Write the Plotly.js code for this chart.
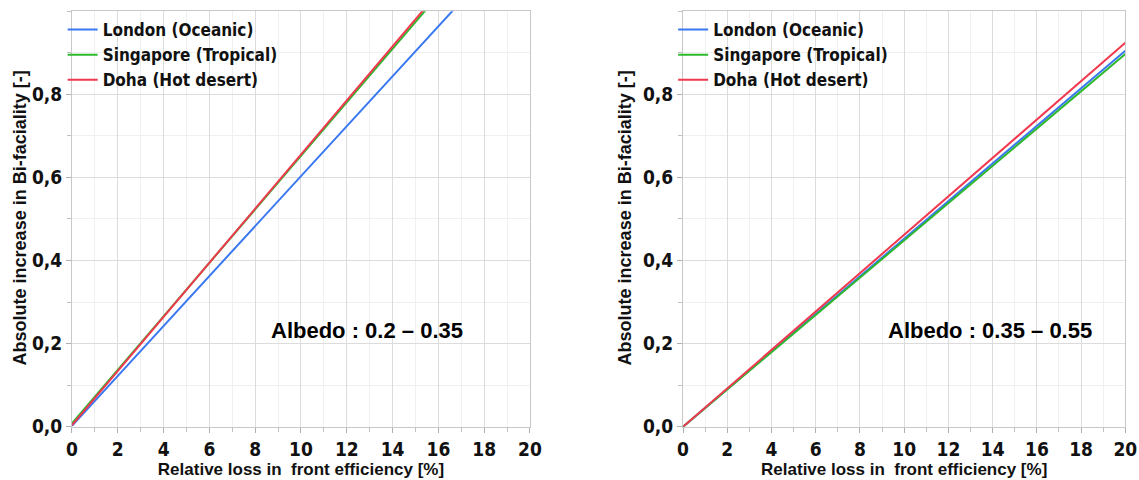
<!DOCTYPE html>
<html><head><meta charset="utf-8">
<script src="https://cdn.plot.ly/plotly-3.0.1.min.js"></script>
<style>html,body{margin:0;padding:0;background:#fff}#c{width:1139px;height:480px}</style>
</head><body><div id="c"></div>
<script>
// Data
const xLoss = [0, 5, 10, 15, 20];
// Left panel: Albedo 0.2 – 0.35
const londonA = [0.002, 0.303, 0.603, 0.904, 1.204];
const singaporeA = [0.008, 0.330, 0.652, 0.974, 1.296];
const dohaA = [0.004, 0.330, 0.655, 0.981, 1.306];
// Right panel: Albedo 0.35 – 0.55
const londonB = [0, 0.226, 0.453, 0.679, 0.905];
const singaporeB = [0, 0.224, 0.449, 0.673, 0.897];
const dohaB = [0, 0.231, 0.462, 0.693, 0.924];
const seriesNames = ['London (Oceanic)', 'Singapore (Tropical)', 'Doha (Hot desert)'];
const panelLabels = ['Albedo : 0.2 – 0.35', 'Albedo : 0.35 – 0.55'];
const xTicks = [0, 2, 4, 6, 8, 10, 12, 14, 16, 18, 20];
const yTicks = [0, 0.2, 0.4, 0.6, 0.8];

const colors = ['#3a78f2', '#2eb82e', '#f0384e'];
const NARROW = '"DejaVu Sans Condensed", "Liberation Sans Narrow", "Liberation Sans", Arial, sans-serif';
const SANS = '"Liberation Sans", Arial, sans-serif';

function mk(y, i, xa, ya, leg) {
  return {x: xLoss, y: y, type: 'scatter', mode: 'lines', name: seriesNames[i],
    line: {color: colors[i], width: 2}, xaxis: xa, yaxis: ya, legend: leg};
}
const traces = [
  mk(londonA, 0, 'x', 'y', 'legend'), mk(singaporeA, 1, 'x', 'y', 'legend'), mk(dohaA, 2, 'x', 'y', 'legend'),
  mk(londonB, 0, 'x2', 'y2', 'legend2'), mk(singaporeB, 1, 'x2', 'y2', 'legend2'), mk(dohaB, 2, 'x2', 'y2', 'legend2')
];

function xax(dom, anchor) {
  return {domain: dom, anchor: anchor, range: [0, 20], tickvals: xTicks, ticktext: xTicks.map(String),
    showline: true, mirror: true, linecolor: '#c8c8c8', linewidth: 1,
    ticks: 'outside', ticklen: 5, tickcolor: '#b0b0b0', ticklabeloverflow: 'allow',
    gridcolor: '#dcdcdc', gridwidth: 1, zeroline: false,
    minor: {dtick: 1, tick0: 0, ticks: 'outside', ticklen: 4, tickcolor: '#c0c0c0', showgrid: true, gridcolor: '#f0f0f0'},
    tickfont: {family: NARROW, size: 19, color: '#111', weight: 'bold'},
    title: {text: 'Relative loss in  front efficiency [%]', font: {family: SANS, size: 17, color: '#111', weight: 'bold'}, standoff: 2}};
}
function yax(anchor) {
  return {domain: [0.111, 0.9767], anchor: anchor, range: [0, 1], tickvals: yTicks, tickformat: '.1f',
    showline: true, mirror: true, linecolor: '#c8c8c8', linewidth: 1,
    ticks: 'outside', ticklen: 5, tickcolor: '#b0b0b0',
    gridcolor: '#dcdcdc', gridwidth: 1, zeroline: false,
    minor: {dtick: 0.1, tick0: 0, ticks: 'outside', ticklen: 4, tickcolor: '#c0c0c0', showgrid: true, gridcolor: '#f0f0f0'},
    tickfont: {family: NARROW, size: 19, color: '#111', weight: 'bold'}};
}
const legStyle = (x) => ({x: x, y: 0.975, xanchor: 'left', yanchor: 'top', bgcolor: 'rgba(0,0,0,0)',
  font: {family: NARROW, size: 17, color: '#111', weight: 'bold'}, itemwidth: 30, tracegroupgap: 0});

const ytitle = 'Absolute increase in Bi-faciality [-]';
const layout = {
  width: 1139, height: 480, margin: {l: 0, r: 0, t: 0, b: 0},
  paper_bgcolor: '#fff', plot_bgcolor: '#fff', separators: ', ',
  showlegend: true,
  xaxis: xax([0.0632, 0.4653], 'y'), yaxis: yax('x'),
  xaxis2: xax([0.5997, 0.988], 'y2'), yaxis2: yax('x2'),
  legend: legStyle(0.055), legend2: legStyle(0.591),
  annotations: [
    {text: panelLabels[0], xref: 'x', yref: 'y', x: 12.9, y: 0.232, showarrow: false,
     font: {family: SANS, size: 22, color: '#000', weight: 'bold'}, xanchor: 'center', yanchor: 'middle'},
    {text: panelLabels[1], xref: 'x2', yref: 'y2', x: 13.9, y: 0.232, showarrow: false,
     font: {family: SANS, size: 22, color: '#000', weight: 'bold'}, xanchor: 'center', yanchor: 'middle'},
    {text: ytitle, xref: 'paper', yref: 'paper', x: 20/1139, y: 0.545, xanchor: 'center', yanchor: 'middle',
     textangle: -90, showarrow: false, font: {family: SANS, size: 18, color: '#111', weight: 'bold'}},
    {text: ytitle, xref: 'paper', yref: 'paper', x: 625/1139, y: 0.545, xanchor: 'center', yanchor: 'middle',
     textangle: -90, showarrow: false, font: {family: SANS, size: 18, color: '#111', weight: 'bold'}}
  ]
};

Plotly.newPlot('c', traces, layout, {displayModeBar: false, staticPlot: true});
</script></body></html>
